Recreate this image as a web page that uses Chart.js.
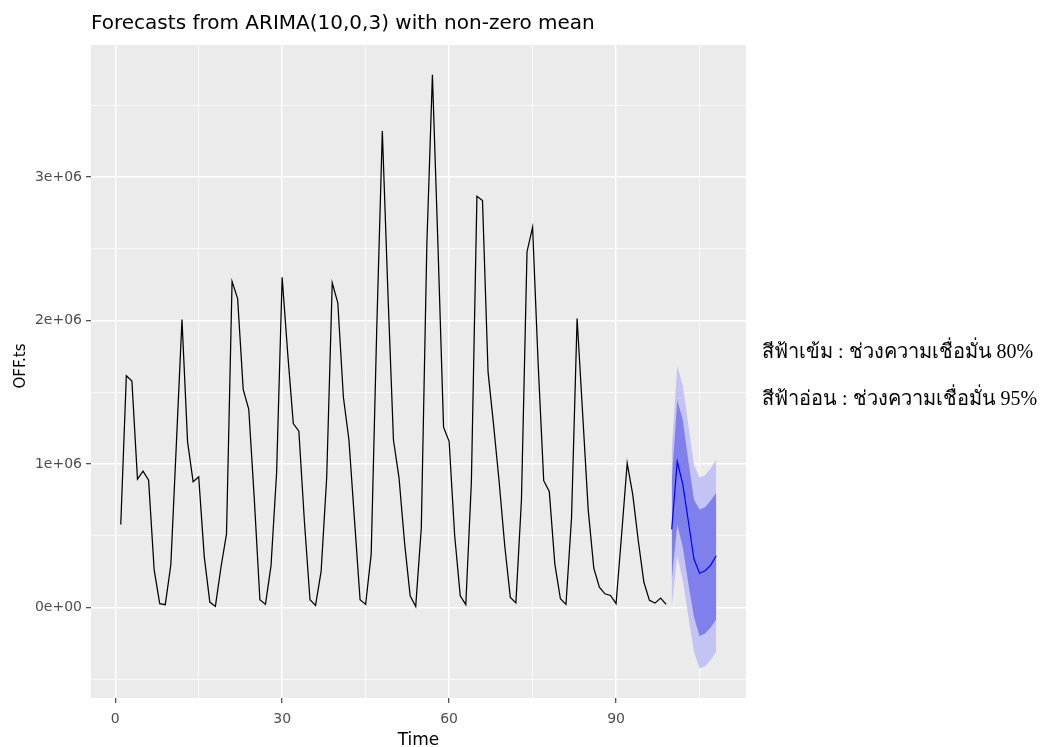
<!DOCTYPE html>
<html>
<head>
<meta charset="utf-8">
<title>Forecasts from ARIMA(10,0,3)</title>
<script src="https://cdn.jsdelivr.net/npm/chart.js@4.4.0/dist/chart.umd.min.js"></script>
<style>
  html, body { margin: 0; padding: 0; background: #ffffff; }
  #wrap { width: 1049px; height: 747px; }
</style>
</head>
<body>
<div id="wrap"><canvas id="forecastChart" width="1049" height="747"></canvas></div>
<script>
// observed series OFF.ts, time 1..99
const histStart = 1;
const histValues = [
  579000, 1616000, 1579000, 896000, 951000, 889000, 264000, 28000, 21000, 301000,
  1150000, 2007000, 1157000, 877000, 912000, 356000, 39000, 9000, 280000, 514000,
  2273000, 2153000, 1521000, 1382000, 753000, 55000, 23000, 293000, 938000, 2302000,
  1770000, 1283000, 1230000, 600000, 55000, 16000, 253000, 903000, 2263000, 2124000,
  1468000, 1168000, 610000, 55000, 23000, 373000, 1950000, 3320000, 2200000, 1168000,
  905000, 450000, 83000, 9000, 553000, 2530000, 3713000, 2520000, 1258000, 1159000,
  503000, 83000, 21000, 874000, 2866000, 2836000, 1641000, 1270000, 874000, 430000,
  71000, 34000, 750000, 2480000, 2650000, 1700000, 885000, 810000, 304000, 62000,
  23000, 627000, 2015000, 1350000, 680000, 276000, 143000, 97000, 85000, 28000,
  510000, 1007000, 788000, 465000, 177000, 51000, 32000, 67000, 23000
];

// forecast, time 100..108
const fcTimes = [100, 101, 102, 103, 104, 105, 106, 107, 108];
const fcMean  = [546000, 1018000, 857000, 600000, 339000, 240000, 258000, 297000, 362000];
const fcHi80  = [880000, 1445000, 1306000, 1018000, 753000, 684000, 700000, 746000, 800000];
const fcLo80  = [190000, 580000, 419000, 165000, -65000, -198000, -180000, -138000, -83000];
const fcHi95  = [1100000, 1682000, 1548000, 1270000, 995000, 908000, 922000, 972000, 1030000];
const fcLo95  = [5000, 362000, 189000, -65000, -306000, -422000, -410000, -364000, -306000];

// axes
const xTicks = [0, 15, 30, 45, 60, 75, 90, 105];
const xMajor = [0, 30, 60, 90];
const yTicks = [-500000, 0, 500000, 1000000, 1500000, 2000000, 2500000, 3000000, 3500000];
const yLabels = { 0: '0e+00', 1000000: '1e+06', 2000000: '2e+06', 3000000: '3e+06' };

const titleText = 'Forecasts from ARIMA(10,0,3) with non-zero mean';
const xTitle = 'Time';
const yTitle = 'OFF.ts';
const noteLines = ['สีฟ้าเข้ม : ช่วงความเชื่อมั่น 80%', 'สีฟ้าอ่อน : ช่วงความเชื่อมั่น 95%'];

const toPoints = (xs, ys) => ys.map((v, i) => ({ x: xs[i], y: v }));
const histPoints = histValues.map((v, i) => ({ x: histStart + i, y: v }));

const sansFont = '"DejaVu Sans", "Liberation Sans", Arial, sans-serif';

// gray panel + white page
const panelBg = {
    id: 'panelBg',
    beforeDraw(chart) {
        const { ctx, chartArea: a } = chart;
        ctx.save();
        ctx.fillStyle = '#ffffff';
        ctx.fillRect(0, 0, chart.width, chart.height);
        ctx.fillStyle = '#EBEBEB';
        ctx.fillRect(a.left, a.top, a.right - a.left, a.bottom - a.top);
        ctx.restore();
    }
};

// titles and the note on the right
const textLayer = {
    id: 'textLayer',
    afterDraw(chart) {
        const { ctx, chartArea: a } = chart;
        ctx.save();
        ctx.fillStyle = '#000000';
        ctx.textBaseline = 'alphabetic';

        ctx.font = '20px ' + sansFont;
        ctx.textAlign = 'left';
        ctx.fillText(titleText, a.left, 29);

        ctx.font = '17px ' + sansFont;
        ctx.textAlign = 'center';
        ctx.fillText(xTitle, (a.left + a.right) / 2, 745);

        ctx.font = '15px ' + sansFont;
        ctx.save();
        ctx.translate(25, 366);
        ctx.rotate(-Math.PI / 2);
        ctx.fillText(yTitle, 0, 0);
        ctx.restore();

        ctx.font = '20px "Liberation Serif", "Times New Roman", serif';
        ctx.textAlign = 'left';
        ctx.fillText(noteLines[0], 762, 358);
        ctx.fillText(noteLines[1], 762, 405);
        ctx.restore();
    }
};

const gridWidth = (major) => major ? 1.4 : 0.7;

new Chart(document.getElementById('forecastChart'), {
    type: 'line',
    data: {
        datasets: [
            {
                label: 'OFF.ts',
                data: histPoints,
                borderColor: '#000000',
                borderWidth: 1.25,
                pointRadius: 0,
                fill: false,
                order: 1
            },
            {
                label: 'hi95',
                data: toPoints(fcTimes, fcHi95),
                borderWidth: 0,
                borderColor: 'rgba(0,0,0,0)',
                backgroundColor: '#C4C4F4',
                pointRadius: 0,
                fill: '+1',
                order: 5
            },
            {
                label: 'lo95',
                data: toPoints(fcTimes, fcLo95),
                borderWidth: 0,
                borderColor: 'rgba(0,0,0,0)',
                pointRadius: 0,
                fill: false,
                order: 4
            },
            {
                label: 'hi80',
                data: toPoints(fcTimes, fcHi80),
                borderWidth: 0,
                borderColor: 'rgba(0,0,0,0)',
                backgroundColor: '#8080EC',
                pointRadius: 0,
                fill: '+1',
                order: 3
            },
            {
                label: 'lo80',
                data: toPoints(fcTimes, fcLo80),
                borderWidth: 0,
                borderColor: 'rgba(0,0,0,0)',
                pointRadius: 0,
                fill: false,
                order: 2
            },
            {
                label: 'mean',
                data: toPoints(fcTimes, fcMean),
                borderColor: '#0000FF',
                borderWidth: 1.2,
                pointRadius: 0,
                fill: false,
                order: 0
            }
        ]
    },
    options: {
        responsive: false,
        animation: false,
        layout: { padding: { top: 45, right: 303, left: 0, bottom: 0 } },
        plugins: {
            legend: { display: false },
            tooltip: { enabled: false },
            title: { display: false }
        },
        scales: {
            x: {
                type: 'linear',
                min: -4.35,
                max: 113.35,
                afterBuildTicks: (scale) => { scale.ticks = xTicks.map(v => ({ value: v })); },
                afterFit: (scale) => { scale.height = 49; },
                border: { display: false },
                grid: {
                    color: '#ffffff',
                    lineWidth: (c) => gridWidth(xMajor.includes(c.tick && c.tick.value)),
                    tickColor: (c) => xMajor.includes(c.tick && c.tick.value) ? '#333333' : 'rgba(0,0,0,0)',
                    tickLength: 5,
                    tickWidth: 1.1
                },
                ticks: {
                    autoSkip: false,
                    maxRotation: 0,
                    padding: 8,
                    color: '#4D4D4D',
                    font: { family: sansFont, size: 14 },
                    callback: (v) => xMajor.includes(v) ? String(v) : ''
                }
            },
            y: {
                type: 'linear',
                min: -629000,
                max: 3920000,
                afterBuildTicks: (scale) => { scale.ticks = yTicks.map(v => ({ value: v })); },
                afterFit: (scale) => { scale.width = 91; },
                border: { display: false },
                grid: {
                    color: '#ffffff',
                    lineWidth: (c) => gridWidth(c.tick && (c.tick.value in yLabels)),
                    tickColor: (c) => c.tick && (c.tick.value in yLabels) ? '#333333' : 'rgba(0,0,0,0)',
                    tickLength: 5,
                    tickWidth: 1.1
                },
                ticks: {
                    autoSkip: false,
                    padding: 4,
                    color: '#4D4D4D',
                    font: { family: sansFont, size: 14 },
                    callback: (v) => yLabels[v] || ''
                }
            }
        }
    },
    plugins: [panelBg, textLayer]
});
</script>
</body>
</html>
